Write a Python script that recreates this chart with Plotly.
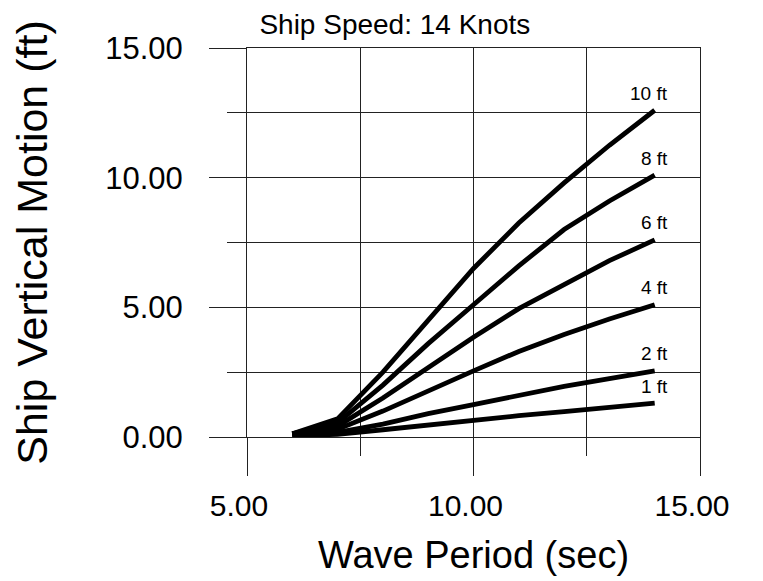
import plotly.graph_objects as go

# Ship vertical motion vs wave period at 14 knots, one curve per wave height
wave_period = [6, 7, 8, 9, 10, 11, 12, 13, 14]

motion_10ft = [0.12, 0.70, 2.50, 4.50, 6.50, 8.25, 9.80, 11.25, 12.60]
motion_8ft = [0.12, 0.55, 2.00, 3.60, 5.10, 6.60, 8.00, 9.10, 10.10]
motion_6ft = [0.12, 0.42, 1.50, 2.70, 3.85, 4.95, 5.85, 6.80, 7.60]
motion_4ft = [0.10, 0.30, 1.00, 1.80, 2.55, 3.30, 3.95, 4.55, 5.10]
motion_2ft = [0.08, 0.18, 0.50, 0.90, 1.25, 1.60, 1.95, 2.25, 2.55]
motion_1ft = [0.06, 0.10, 0.28, 0.47, 0.65, 0.82, 0.98, 1.15, 1.31]

series = [
    ("10 ft", motion_10ft),
    ("8 ft", motion_8ft),
    ("6 ft", motion_6ft),
    ("4 ft", motion_4ft),
    ("2 ft", motion_2ft),
    ("1 ft", motion_1ft),
]

FONT = "Liberation Sans, Arial, sans-serif"
GRID = "#222222"

fig = go.Figure()

for name, vals in series:
    fig.add_trace(go.Scatter(
        x=wave_period,
        y=vals,
        mode="lines",
        name=name,
        line=dict(color="black", width=4.8),
        showlegend=False,
    ))
    # label sits just above the end of each curve
    fig.add_annotation(
        x=wave_period[-1], y=vals[-1], xref="x", yref="y",
        text=name, showarrow=False,
        xanchor="right", yanchor="middle",
        xshift=15, yshift=17,
        font=dict(family=FONT, size=19, color="black"),
    )

# page body adds an 8px offset, margins compensate for it
fig.update_layout(
    width=763,
    height=581,
    margin=dict(l=239, r=71, t=40, b=152),
    paper_bgcolor="white",
    plot_bgcolor="white",
    font=dict(family=FONT, color="black"),
    title=dict(
        text="Ship Speed: 14 Knots",
        x=0.507, xref="container", xanchor="center",
        y=0.972, yref="container", yanchor="middle",
        font=dict(family=FONT, size=28, color="black"),
    ),
)

fig.update_xaxes(
    range=[5, 15],
    tickvals=[5, 10, 15],
    ticktext=["5.00", "10.00", "15.00"],
    ticks="outside", ticklen=38, tickwidth=1, tickcolor=GRID,
    ticklabelstandoff=4,
    ticklabelshift=-8,
    tickfont=dict(family=FONT, size=30, color="black"),
    showgrid=True, gridcolor=GRID, gridwidth=1,
    minor=dict(dtick=2.5, ticks="outside", ticklen=18, tickcolor=GRID,
               showgrid=True, gridcolor=GRID, gridwidth=1),
    showline=True, mirror=True, linecolor=GRID, linewidth=1,
    zeroline=False, automargin=False,
    title=dict(text="Wave Period (sec)", standoff=20,
               font=dict(family=FONT, size=38, color="black")),
)

fig.update_yaxes(
    range=[0, 15],
    tickvals=[0, 5, 10, 15],
    ticktext=["0.00", "5.00", "10.00", "15.00"],
    ticks="outside", ticklen=37, tickwidth=1, tickcolor=GRID,
    ticklabelstandoff=20,
    tickfont=dict(family=FONT, size=31, color="black"),
    showgrid=True, gridcolor=GRID, gridwidth=1,
    minor=dict(dtick=2.5, ticks="outside", ticklen=19, tickcolor=GRID,
               showgrid=True, gridcolor=GRID, gridwidth=1),
    showline=True, mirror=True, linecolor=GRID, linewidth=1,
    zeroline=False, automargin=False,
    title=dict(text="Ship Vertical Motion (ft)", standoff=44,
               font=dict(family=FONT, size=43, color="black")),
)

fig.write_html("out.html")
